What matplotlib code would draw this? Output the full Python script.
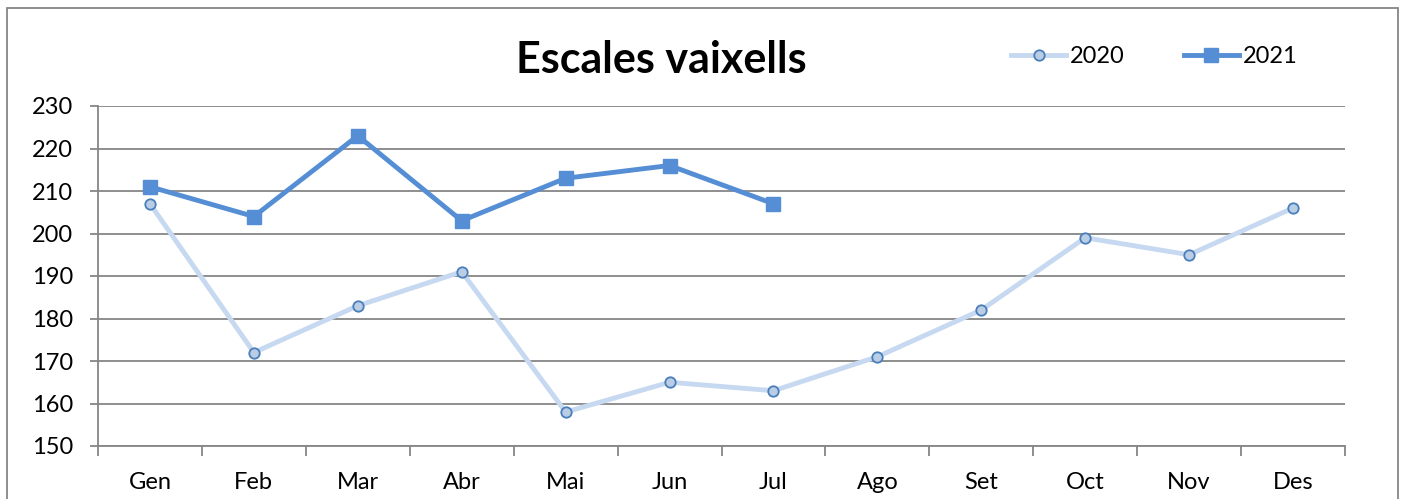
import matplotlib.pyplot as plt
from matplotlib.patches import Rectangle

# --- data ---
months = ["Gen", "Feb", "Mar", "Abr", "Mai", "Jun", "Jul", "Ago", "Set", "Oct", "Nov", "Des"]
vals_2020 = [207, 172, 183, 191, 158, 165, 163, 171, 182, 199, 195, 206]
vals_2021 = [211, 204, 223, 203, 213, 216, 207]
yticks = [150, 160, 170, 180, 190, 200, 210, 220, 230]

plt.rcParams['font.family'] = ['Lato', 'DejaVu Sans']

fig = plt.figure(figsize=(14.11, 4.99), dpi=100)
ax = fig.add_axes([98 / 1411, 1 - 446 / 499, (1345 - 98) / 1411, (446 - 106) / 499])

x20 = list(range(len(vals_2020)))
x21 = list(range(len(vals_2021)))

ax.plot(x20, vals_2020, color="#C6D9F0", lw=3.5, marker="o", ms=7.5,
        mfc="#B9CDE5", mec="#4A7EBB", mew=1.3, label="2020", zorder=3)
ax.plot(x21, vals_2021, color="#558ED5", lw=3.5, marker="s", ms=10,
        mfc="#558ED5", mec="#558ED5", label="2021", zorder=4)

ax.set_xlim(-0.5, len(months) - 0.5)
ax.set_ylim(150, 230)
ax.set_yticks(yticks)
ax.set_xticks(x20)
ax.set_xticklabels(months)
ax.set_xticks([i - 0.5 for i in range(len(months) + 1)], minor=True)
ax.tick_params(axis="x", which="major", length=0, pad=19, labelsize=17)
ax.tick_params(axis="x", which="minor", length=7, color="#868686", width=1.3)
ax.tick_params(axis="y", length=6, color="#868686", width=1.3, labelsize=17, pad=12)
ax.grid(axis="y", color="#868686", lw=1.3)
for s in ["top", "right"]:
    ax.spines[s].set_visible(False)
for s in ["left", "bottom"]:
    ax.spines[s].set_color("#868686")
    ax.spines[s].set_linewidth(1.3)

fig.text(0.469, 0.88, "Escales vaixells", ha="center", va="center",
         fontsize=31, fontweight="bold")

fig.legend(loc="center", bbox_to_anchor=(0.818, 0.887), ncol=2, frameon=False,
           fontsize=17, handlelength=2.35, columnspacing=2.5, handletextpad=0.15)

# outer chart frame
fig.patches.append(Rectangle((7 / 1411, -0.05), (1398 - 7) / 1411, 1 - 8 / 499 + 0.05,
                             transform=fig.transFigure, fill=False,
                             edgecolor="#868686", lw=1.3))

fig.savefig("out.png", dpi=100)
